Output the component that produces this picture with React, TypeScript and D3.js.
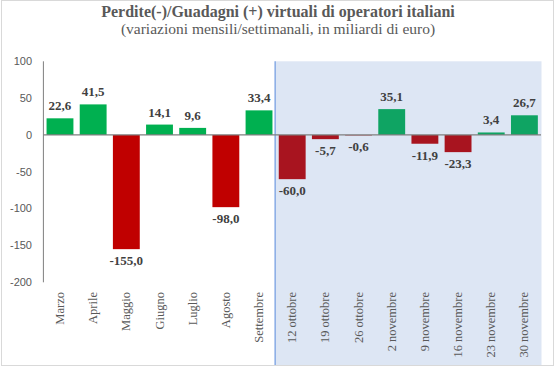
import React from "react";
import * as d3 from "d3";

const categories = [
  "Marzo", "Aprile", "Maggio", "Giugno", "Luglio", "Agosto", "Settembre",
  "12 ottobre", "19 ottobre", "26 ottobre", "2 novembre", "9 novembre",
  "16 novembre", "23 novembre", "30 novembre",
];
const values = [22.6, 41.5, -155.0, 14.1, 9.6, -98.0, 33.4, -60.0, -5.7, -0.6, 35.1, -11.9, -23.3, 3.4, 26.7];
const yTicks = [100, 50, 0, -50, -100, -150, -200];
const monthlyCount = 7;

const W = 556;
const H = 368;
const left = 43.4;
const right = 541;
const top = 61.3;
const bottom = 282.3;

export default function App() {
  const x = d3.scaleBand<string>().domain(categories).range([left, right]).paddingInner(0.19).paddingOuter(0.095);
  const y = d3.scaleLinear().domain([-200, 100]).range([bottom, top]);
  const fmt = (v: number) => v.toFixed(1).replace(".", ",");
  const blueStart = (x(categories[monthlyCount]) as number) - (x.step() * x.paddingInner()) / 2 - 0.5;
  const serif = "'Liberation Serif', 'Times New Roman', serif";

  return (
    <svg width={W} height={H} style={{ position: "absolute", left: 0, top: 0 }}>
      <rect x={0} y={0} width={W} height={H} fill="#ffffff" />
      <rect x={1.5} y={0.5} width={552} height={365} fill="none" stroke="#d9d9d9" strokeWidth={1} />
      <rect x={blueStart} y={top} width={right - blueStart + 0.5} height={365 - top} fill="#dde6f4" />
      <line x1={blueStart} x2={blueStart} y1={top} y2={365} stroke="#6f9ae0" strokeWidth={1.2} />
      <text x={278} y={17} textAnchor="middle" fontFamily={serif} fontWeight="bold" fontSize={16} fill="#595959">
        Perdite(-)/Guadagni (+) virtuali di operatori italiani
      </text>
      <text x={278} y={34} textAnchor="middle" fontFamily={serif} fontSize={15.5} fill="#595959">
        (variazioni mensili/settimanali,  in miliardi di euro)
      </text>
      {yTicks.map((t) => (
        <text key={t} x={32} y={y(t)} dy="0.35em" textAnchor="end" fontFamily="'Liberation Sans', Arial, sans-serif" fontSize={11} fill="#595959">
          {t}
        </text>
      ))}
      {categories.map((c, i) => {
        const v = values[i];
        const weekly = i >= monthlyCount;
        const color = v >= 0 ? (weekly ? "#0fa463" : "#00b050") : weekly ? "#a8141f" : "#c00000";
        const bx = x(c) as number;
        const y0 = y(Math.max(0, v));
        const y1 = y(Math.min(0, v));
        const cx = bx + x.bandwidth() / 2;
        return (
          <g key={c}>
            <rect x={bx} y={y0} width={x.bandwidth()} height={Math.max(0, y1 - y0)} fill={color} />
            <text
              x={cx}
              y={v >= 0 ? y0 - 8 : y1 + 16}
              textAnchor="middle"
              fontFamily={serif}
              fontWeight="bold"
              fontSize={13}
              fill="#404040"
            >
              {fmt(v)}
            </text>
            <text
              transform={`translate(${cx + 4},292) rotate(-90)`}
              textAnchor="end"
              fontFamily={serif}
              fontSize={12.5}
              fill="#595959"
            >
              {c}
            </text>
          </g>
        );
      })}
      <line x1={left} x2={left} y1={top} y2={bottom} stroke="#7f7f7f" strokeWidth={1} />
      <line x1={left} x2={right} y1={y(0)} y2={y(0)} stroke="#7f7f7f" strokeWidth={1.2} />
    </svg>
  );
}
